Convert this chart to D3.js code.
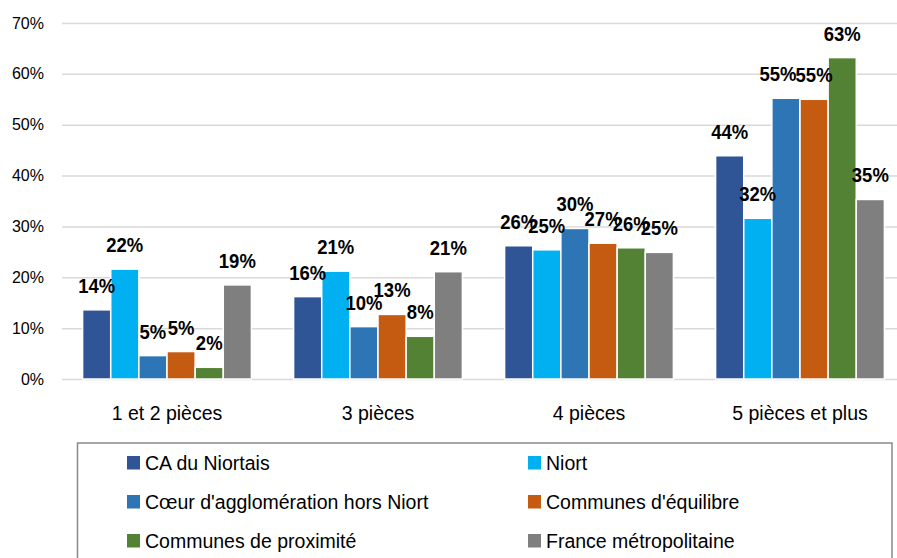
<!DOCTYPE html>
<html lang="fr">
<head>
    <meta charset="UTF-8">
    <title>Logements par nombre de pièces</title>
    <script src="https://cdnjs.cloudflare.com/ajax/libs/d3/7.8.5/d3.min.js"></script>
    <style>
        body { margin: 0; background: #fff; }
        text { font-family: "Liberation Sans", Arial, sans-serif; fill: #000; }
    </style>
</head>
<body>
<div id="chart"></div>

<script>
    var width = 897;
    var height = 558;

    // data
    var categories = ["1 et 2 pièces", "3 pièces", "4 pièces", "5 pièces et plus"];
    var seriesNames = ["CA du Niortais", "Niort", "Cœur d'agglomération hors Niort",
        "Communes d'équilibre", "Communes de proximité", "France métropolitaine"];
    var seriesColors = ["#2f5597", "#00b0f0", "#2e75b6", "#c55a11", "#548235", "#7f7f7f"];
    var caNiortais = [0.136, 0.162, 0.262, 0.439];
    var niort = [0.216, 0.212, 0.254, 0.316];
    var coeur = [0.046, 0.103, 0.296, 0.552];
    var equilibre = [0.054, 0.127, 0.267, 0.550];
    var proximite = [0.023, 0.084, 0.258, 0.632];
    var france = [0.185, 0.211, 0.249, 0.353];
    var yTicks = [0, 0.1, 0.2, 0.3, 0.4, 0.5, 0.6, 0.7];

    var seriesValues = [caNiortais, niort, coeur, equilibre, proximite, france];

    var svg = d3.select("#chart")
        .append("svg")
        .attr("width", width)
        .attr("height", height);

    svg.append("rect")
        .attr("width", width)
        .attr("height", height)
        .attr("fill", "#fff");

    var x = d3.scaleBand()
        .domain(categories)
        .range([61.5, 905.5])
        .paddingInner(0.2)
        .paddingOuter(0.1);

    var xs = d3.scaleBand()
        .domain(d3.range(seriesNames.length))
        .range([0, x.bandwidth()]);

    var y = d3.scaleLinear()
        .domain([0, 0.7])
        .range([379, 23]);

    // gridlines + y labels
    var yAxis = d3.axisLeft(y)
        .tickValues(yTicks)
        .tickFormat(d3.format(".0%"))
        .tickSize(-(width - 62))
        .tickPadding(18);

    var gy = svg.append("g")
        .attr("transform", "translate(62,0)")
        .call(yAxis);
    gy.select(".domain").remove();
    gy.selectAll(".tick line")
        .attr("stroke", "#d9d9d9")
        .attr("stroke-width", 1.5);
    gy.selectAll(".tick text")
        .style("font-family", "Liberation Sans, Arial, sans-serif")
        .style("font-size", "16px")
        .attr("fill", "#000");

    // x labels
    var xAxis = d3.axisBottom(x).tickSize(0).tickPadding(0);
    var gx = svg.append("g")
        .attr("transform", "translate(0,379)")
        .call(xAxis);
    gx.select(".domain").remove();
    gx.selectAll(".tick text")
        .attr("dy", null)
        .attr("y", 41)
        .style("font-family", "Liberation Sans, Arial, sans-serif")
        .style("font-size", "19.5px")
        .attr("fill", "#000");

    // bars
    var rows = [];
    categories.forEach(function (c, ci) {
        seriesValues.forEach(function (vals, si) {
            rows.push({cat: c, s: si, v: vals[ci]});
        });
    });

    svg.append("g")
        .selectAll("rect")
        .data(rows)
        .enter()
        .append("rect")
        .attr("x", function (d) { return x(d.cat) + xs(d.s); })
        .attr("y", function (d) { return y(d.v); })
        .attr("width", xs.bandwidth())
        .attr("height", function (d) { return y(0) - y(d.v); })
        .attr("fill", function (d) { return seriesColors[d.s]; })
        .attr("stroke", "#fff")
        .attr("stroke-width", 1.5);

    // data labels, squeezed a bit to get the narrow look of the original
    // (the 55% of Coeur d'agglo was nudged left in the original)
    svg.append("g")
        .selectAll("text")
        .data(rows)
        .enter()
        .append("text")
        .attr("transform", function (d) {
            var nudge = (d.s === 2 && d.cat === categories[3]) ? -8 : 0;
            var cx = x(d.cat) + xs(d.s) + xs.bandwidth() / 2 + nudge;
            return "translate(" + cx + "," + (y(d.v) - 17) + ") scale(0.88,1)";
        })
        .attr("text-anchor", "middle")
        .style("font-size", "21px")
        .style("font-weight", "bold")
        .text(function (d) { return d3.format(".0%")(d.v); });

    // legend
    var legend = svg.append("g");
    legend.append("rect")
        .attr("x", 77.5)
        .attr("y", 443)
        .attr("width", 814.5)
        .attr("height", 130)
        .attr("fill", "none")
        .attr("stroke", "#898989")
        .attr("stroke-width", 1.5);

    var items = legend.selectAll("g.item")
        .data(seriesNames)
        .enter()
        .append("g")
        .attr("class", "item")
        .attr("transform", function (d, i) {
            var col = i % 2, row = Math.floor(i / 2);
            return "translate(" + (col === 0 ? 127 : 528) + "," + (456 + row * 39) + ")";
        });
    items.append("rect")
        .attr("width", 13)
        .attr("height", 13.5)
        .attr("fill", function (d, i) { return seriesColors[i]; });
    items.append("text")
        .attr("x", 18)
        .attr("y", 14)
        .style("font-size", "19.5px")
        .text(function (d) { return d; });
</script>

</body>
</html>
